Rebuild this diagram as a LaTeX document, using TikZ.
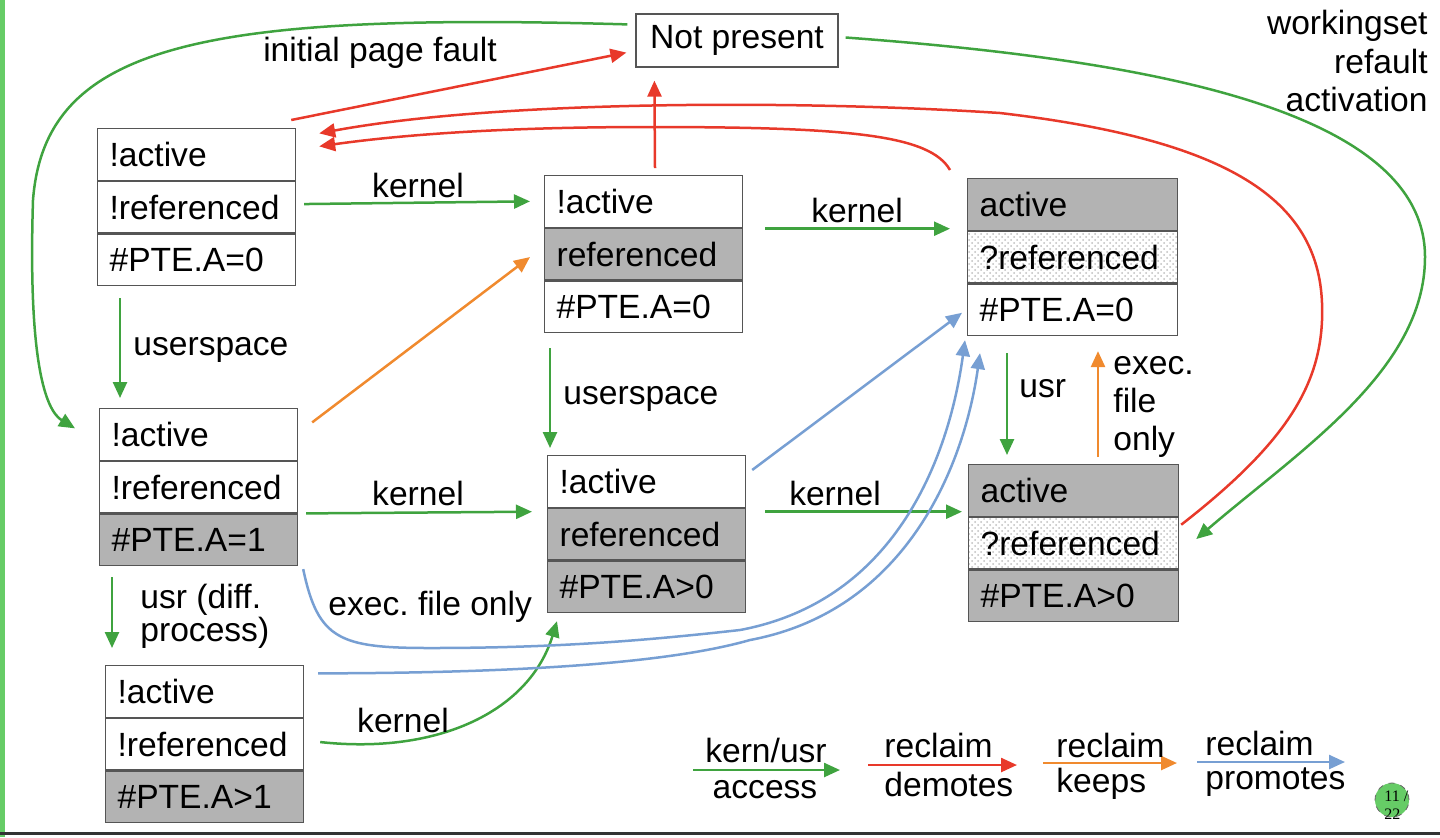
\documentclass[tikz,border=0pt]{standalone}
\usepackage{fontspec}
\setmainfont{Liberation Sans}
\newfontfamily\pagenumfont{Liberation Serif}
\usepackage{xcolor}
\usetikzlibrary{arrows.meta, positioning, calc, patterns}
\frenchspacing

\definecolor{kerngreen}{HTML}{3FA33F}
\definecolor{demred}{HTML}{E8392A}
\definecolor{keeporange}{HTML}{F08A2E}
\definecolor{promblue}{HTML}{779FD3}
\definecolor{cellgray}{HTML}{B3B3B3}
\definecolor{cellline}{HTML}{555555}
\definecolor{slidegreen}{HTML}{66CC66}

\tikzset{
  cell/.style={draw=cellline, line width=0.6pt, text width=87pt, inner xsep=6pt, inner ysep=0pt,
    minimum height=25.75pt, align=left, font=\fontsize{16.8}{19.2}\selectfont},
  widecell/.style={cell, text width=93pt},
  setcell/.style={fill=cellgray},
  qcell/.style={pattern=crosshatch dots, pattern color=black!25},
  lbl/.style={font=\fontsize{16.8}{19.2}\selectfont, inner sep=0pt},
  accarr/.style={-{Triangle[length=8pt,width=7pt]}, line width=1.25pt, draw=kerngreen},
  demarr/.style={accarr, draw=demred},
  keeparr/.style={accarr, draw=keeporange},
  promarr/.style={accarr, draw=promblue},
}

\begin{document}
\begin{tikzpicture}[x=0.5pt, y=-0.5pt]
    \useasboundingbox (0,0) rectangle (1440,837);
    % slide frame
    \fill[slidegreen] (0,0) rectangle (5,837);
    \fill[black!80] (0,832) rectangle (1440,835);

    % page states
    \node[draw=cellline, line width=0.6pt, lbl, minimum width=101pt, minimum height=26.5pt] (np) at (737,40.5) {Not present};

    \node[cell, anchor=north west] (a1) at (97,128) {!active};
    \node[cell, below=0pt of a1] (a2) {!referenced};
    \node[cell, below=0pt of a2] (a3) {\#PTE.A=0};

    \node[cell, anchor=north west] (b1) at (99,408) {!active};
    \node[cell, below=0pt of b1] (b2) {!referenced};
    \node[cell, setcell, below=0pt of b2] (b3) {\#PTE.A=1};

    \node[cell, anchor=north west] (c1) at (105,665) {!active};
    \node[cell, below=0pt of c1] (c2) {!referenced};
    \node[cell, setcell, below=0pt of c2] (c3) {\#PTE.A>1};

    \node[cell, anchor=north west] (d1) at (544,175) {!active};
    \node[cell, setcell, below=0pt of d1] (d2) {referenced};
    \node[cell, below=0pt of d2] (d3) {\#PTE.A=0};

    \node[cell, anchor=north west] (e1) at (547,455) {!active};
    \node[cell, setcell, below=0pt of e1] (e2) {referenced};
    \node[cell, setcell, below=0pt of e2] (e3) {\#PTE.A>0};

    \node[widecell, setcell, anchor=north west] (f1) at (967,178) {active};
    \node[widecell, qcell, below=0pt of f1] (f2) {?referenced};
    \node[widecell, below=0pt of f2] (f3) {\#PTE.A=0};

    \node[widecell, setcell, anchor=north west] (g1) at (968,464) {active};
    \node[widecell, qcell, below=0pt of g1] (g2) {?referenced};
    \node[widecell, setcell, below=0pt of g2] (g3) {\#PTE.A>0};

    % kern/usr access
    \draw[accarr] ($(a2.east)+(8,-3)$) -- ($(d1.west)+(-14,0)$);
    \draw[accarr] ($(d1.south east)+(22,1)$) -- ($(f1.south west)+(-17,-2)$);
    \draw[accarr] ($(a3.south west)+(23,12)$) -- ($(b1.north west)+(21,-10)$);
    \draw[accarr] ($(d3.south west)+(6,15)$) -- ($(e1.north west)+(3,-7)$);
    \draw[accarr] ($(b2.south east)+(8,0)$) -- ($(e1.south west)+(-15,4)$);
    \draw[accarr] ($(e1.south east)+(19,4)$) -- ($(g1.south west)+(-6,-5)$);
    \draw[accarr] ($(f3.south west)+(40,17)$) -- ($(g1.north west)+(39,-9)$);
    \draw[accarr] ($(b3.south west)+(13,11)$) -- ($(c1.north west)+(7,-17)$);
    \draw[accarr] ($(c2.east)+(16,-2)$) .. controls (440,755) and (530,710) .. ($(e3.south west)+(10,8)$);
    \draw[accarr] ($(np.north west)+(-8,11)$) .. controls (200,12) and (45,45) .. (33,200)
        .. controls (28,360) and (45,410) .. ($(b1.west)+(-24,-6)$);
    \draw[accarr] ($(np.east)+(7,-3)$) .. controls (1150,60) and (1425,110) .. (1425,257)
        .. controls (1425,370) and (1300,450) .. ($(g2.east)+(17,-4)$);

    % reclaim demotes
    \draw[demarr] ($(a1.north east)+(-5,-8)$) -- ($(np.south west)+(-9,-15)$);
    \draw[demarr] ($(d1.north west)+(111,-7)$) -- ($(np.south west)+(19,13)$);
    \draw[demarr] ($(f1.north west)+(-17,-8)$) .. controls (930,135) and (850,127) .. (650,127)
        .. controls (500,127) and (400,135) .. ($(a1.east)+(23,-8)$);
    \draw[demarr] ($(g1.south east)+(2,8)$) .. controls (1290,440) and (1325,380) .. (1322,303)
        .. controls (1318,200) and (1230,140) .. (1000,113)
        .. controls (800,100) and (500,100) .. ($(a1.east)+(23,-21)$);

    % reclaim keeps
    \draw[keeparr] ($(b1.east)+(14,-12)$) -- ($(d2.west)+(-14,3)$);
    \draw[keeparr] ($(g1.north west)+(130,-7)$) -- ($(f3.south west)+(131,15)$);

    % reclaim promotes
    \draw[promarr] ($(e1.north east)+(6,15)$) -- ($(f3.west)+(-5,3)$);
    \draw[promarr] ($(b3.south east)+(5,3)$) .. controls (318,640) and (340,648) .. (430,648)
        .. controls (560,648) and (650,640) .. (740,630)
        .. controls (900,600) and (950,450) .. ($(f3.south west)+(-2,4)$);
    \draw[promarr] ($(c1.east)+(14,-18)$) .. controls (550,673) and (680,660) .. (750,640)
        .. controls (910,610) and (965,460) .. ($(f3.south west)+(13,17)$);

    % labels
    \node[lbl] (lfault) at (380,53) {initial page fault};
    \node[lbl, anchor=north east, align=right] (lrefault) at (1428,10) {workingset\\refault\\activation};
    \node[lbl] (lk1) at (418,185) {kernel};
    \node[lbl] (lk2) at (857,210) {kernel};
    \node[lbl, anchor=west] (lus1) at (133,350) {userspace};
    \node[lbl, anchor=west] (lus2) at (563,399) {userspace};
    \node[lbl] (lk3) at (418,493) {kernel};
    \node[lbl] (lk4) at (835,493) {kernel};
    \node[lbl, anchor=west] (lusr) at (1019,389) {usr};
    \node[lbl, anchor=west, align=left] (lexec) at (1113,407) {exec.\\file\\only};
    \node[lbl, anchor=west, align=left, font=\fontsize{16.8}{16.5}\selectfont] (ldiff) at (140,616) {usr (diff.\\process)};
    \node[lbl] (lk5) at (403,720) {kernel};
    \node[lbl, anchor=west] (lexecb) at (328,607) {exec. file only};

    % legend
    \coordinate (lg0) at (693,770); \coordinate (lg1) at (840,770);
    \draw[accarr] (lg0) -- (lg1);
    \node[lbl] (lgk) at (766,750) {kern/usr};
    \node[lbl] (lga) at (765,790) {access};
    \coordinate (lr0) at (868,765); \coordinate (lr1) at (1017,765);
    \draw[demarr] (lr0) -- (lr1);
    \node[lbl, anchor=west] (lrr) at (884,745) {reclaim};
    \node[lbl, anchor=west] (lrd) at (884,784) {demotes};
    \coordinate (lo0) at (1043,763); \coordinate (lo1) at (1177,763);
    \draw[keeparr] (lo0) -- (lo1);
    \node[lbl, anchor=west] (lor) at (1056,745) {reclaim};
    \node[lbl, anchor=west] (lok) at (1056,784) {keeps};
    \coordinate (lb0) at (1197,762); \coordinate (lb1) at (1345,762);
    \draw[promarr] (lb0) -- (lb1);
    \node[lbl, anchor=west] (lbr) at (1205,743) {reclaim};
    \node[lbl, anchor=west] (lbp) at (1205,782) {promotes};

    % page number
    \node[circle, draw=black!60, dashed, fill=slidegreen, minimum size=17pt, inner sep=0pt] (pgc) at (1392,800) {};
    \node[anchor=north west, align=left, inner sep=0pt, font=\pagenumfont\fontsize{8}{9}\selectfont] (pgn) at (1384,791) {11 /\\22};
\end{tikzpicture}
\end{document}
